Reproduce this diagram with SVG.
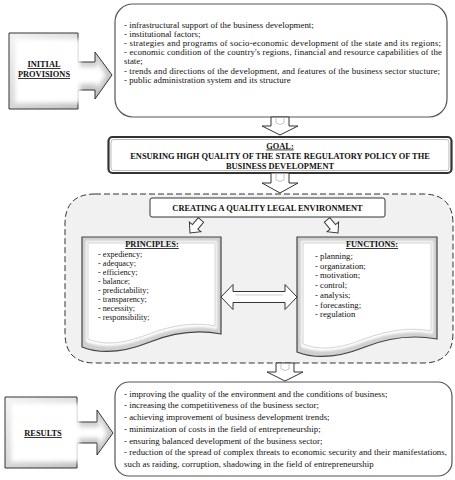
<svg xmlns="http://www.w3.org/2000/svg" width="455" height="480" viewBox="0 0 455 480">
<defs>
<style>
.t{font-family:"Liberation Serif","Times New Roman",serif;font-size:8.9px;fill:#111}
.s{font-family:"Liberation Serif","Times New Roman",serif;font-size:8.7px;fill:#111}
.p{font-family:"Liberation Serif","Times New Roman",serif;font-size:8.2px;fill:#111}
.b{font-family:"Liberation Serif","Times New Roman",serif;font-size:8.4px;font-weight:bold;fill:#111}
.u{text-decoration:underline}
.box{fill:#fff;stroke:#555;stroke-width:1.2}
.arr{fill:#fff;stroke:#333;stroke-width:1}
.in{fill:none;stroke:#b5b5b5;stroke-width:0.8}
</style>
<linearGradient id="bev" x1="0" y1="0" x2="1" y2="1">
<stop offset="0" stop-color="#f4f4f4"/>
<stop offset="1" stop-color="#b8b8b8"/>
</linearGradient>
<filter id="blur" x="-10%" y="-10%" width="120%" height="120%"><feGaussianBlur stdDeviation="2"/></filter>
<filter id="blur1" x="-10%" y="-10%" width="120%" height="120%"><feGaussianBlur stdDeviation="1.2"/></filter>
</defs>

<g id="initial-provisions">
<path d="M9,33 H78 V62 H95 V52 L112,75 L95,99 V90 H78 V109 H9 Z" fill="url(#bev)" stroke="#333" stroke-width="1"/>
<path d="M15,39 H80 V67 H97 V61 L106,75 L97,89 V84 H80 V103 H15 Z" fill="#fff" filter="url(#blur)"/>
<text class="b u" x="44" y="67" text-anchor="middle">INITIAL</text>
<text class="b u" x="44" y="77" text-anchor="middle">PROVISIONS</text>
</g>

<g id="initial-content">
<rect class="box" x="115" y="4" width="332" height="113" rx="18"/>
<text class="t" x="124" y="27.5">- infrastructural support of the business development;</text>
<text class="t" x="124" y="36.7">- institutional factors;</text>
<text class="t" x="124" y="45.9" textLength="317" lengthAdjust="spacing">- strategies and programs of socio-economic development of the state and its regions;</text>
<text class="t" x="124" y="55.1" textLength="318" lengthAdjust="spacing">- economic condition of the country's regions, financial and resource capabilities of the</text>
<text class="t" x="124" y="64.3">state;</text>
<text class="t" x="124" y="73.5" textLength="316" lengthAdjust="spacing">- trends and directions of the development, and features of the business sector stucture;</text>
<text class="t" x="124" y="82.7">- public administration system and its structure</text>
</g>

<g id="goal">
<rect x="108.5" y="137" width="343" height="36" rx="4" fill="#fff" stroke="#333" stroke-width="2.2"/>
<rect x="111" y="139.5" width="338" height="31" rx="2.5" fill="none" stroke="#aaa" stroke-width="0.8"/>
<text class="b u" x="280" y="148.5" text-anchor="middle">GOAL:</text>
<text class="b" x="280" y="158.5" text-anchor="middle">ENSURING HIGH QUALITY OF THE STATE REGULATORY POLICY OF THE</text>
<text class="b" x="280" y="168.5" text-anchor="middle">BUSINESS DEVELOPMENT</text>
</g>

<g id="legal-environment">
<path d="M95,194 H423 Q453,194 453,224 V333 Q453,363 423,363 H95 Q65,363 65,333 V224 Q65,194 95,194 Z" fill="#f1f1f1" stroke="#333" stroke-width="1" stroke-dasharray="6,3"/>
<rect x="150" y="198" width="235" height="19" rx="2" fill="#fff" stroke="#333" stroke-width="1"/>
<text class="b" x="267.5" y="210.5" text-anchor="middle">CREATING A QUALITY LEGAL ENVIRONMENT</text>
</g>

<g id="principles">
<path d="M82,237 H221 V334 C200,330 175,332 150,342 C130,350 105,356 82,347 Z" fill="#d0d0d0" stroke="#444" stroke-width="1.2"/>
<path d="M86,241 H217 V329 C197,325 173,328 149,337 C128,345 106,350 86,342 Z" fill="#fff" filter="url(#blur1)"/>
<path d="M88,243 H215 V326 C196,322 172,325 149,334 C128,342 107,347 88,339 Z" fill="none" stroke="#c8c8c8" stroke-width="0.8"/>
<text class="b u" x="152" y="247" text-anchor="middle">PRINCIPLES:</text>
<text class="p" x="98" y="257">- expediency;</text>
<text class="p" x="98" y="266">- adequacy;</text>
<text class="p" x="98" y="275">- efficiency;</text>
<text class="p" x="98" y="284">- balance;</text>
<text class="p" x="98" y="293">- predictability;</text>
<text class="p" x="98" y="302">- transparency;</text>
<text class="p" x="98" y="311">- necessity;</text>
<text class="p" x="98" y="320">- responsibility;</text>
</g>

<g id="functions">
<path d="M297,237 H437 V339 C415,335 390,337 365,347 C345,355 320,361 297,352 Z" fill="#d0d0d0" stroke="#444" stroke-width="1.2"/>
<path d="M301,241 H433 V334 C412,330 389,333 364,342 C344,350 321,355 301,347 Z" fill="#fff" filter="url(#blur1)"/>
<path d="M303,243 H431 V331 C411,327 388,330 364,339 C344,347 322,352 303,344 Z" fill="none" stroke="#c8c8c8" stroke-width="0.8"/>
<text class="b u" x="372" y="247" text-anchor="middle">FUNCTIONS:</text>
<text class="s" x="315" y="259">- planning;</text>
<text class="s" x="315" y="268.7">- organization;</text>
<text class="s" x="315" y="278.4">- motivation;</text>
<text class="s" x="315" y="288.1">- control;</text>
<text class="s" x="315" y="297.8">- analysis;</text>
<text class="s" x="315" y="307.5">- forecasting;</text>
<text class="s" x="315" y="317.2">- regulation</text>
</g>

<g id="results">
<path d="M5,397 H77 V422 H97 V410 L113,433 L97,455 V443 H77 V468 H5 Z" fill="url(#bev)" stroke="#333" stroke-width="1"/>
<path d="M11,403 H79 V427 H99 V418 L107,433 L99,447 V438 H79 V462 H11 Z" fill="#fff" filter="url(#blur)"/>
<text class="b u" x="43" y="436" text-anchor="middle">RESULTS</text>
</g>

<g id="results-content">
<rect class="box" x="115" y="382" width="337" height="94" rx="14"/>
<text class="t" x="124" y="396.5">- improving the quality of the environment and the conditions of business;</text>
<text class="t" x="124" y="408.3">- increasing the competitiveness of the business sector;</text>
<text class="t" x="124" y="420">- achieving improvement of business development trends;</text>
<text class="t" x="124" y="431.8">- minimization of costs in the field  of entrepreneurship;</text>
<text class="t" x="124" y="443.5">- ensuring balanced development of the business sector;</text>
<text class="t" x="124" y="455.3" textLength="323" lengthAdjust="spacing">- reduction of the spread of complex threats to economic security and their manifestations,</text>
<text class="t" x="124" y="467">such as raiding, corruption, shadowing in the field  of entrepreneurship</text>
</g>

<g id="connectors">
<path class="arr" d="M271,117 H289 V126 H298 L280,135 L262,126 H271 Z"/>
<path class="in" d="M276,118 V123 Q280,126 284,123 V118"/>
<path class="arr" d="M271,173 H289 V183 H298 L280,193 L262,183 H271 Z"/>
<path class="in" d="M276,174 V180 Q280,183 284,180 V174"/>
<path class="arr" d="M276,363 H294 V372 H303 L285,381 L267,372 H276 Z"/>
<path class="in" d="M281,364 V369 Q285,372 289,369 V364"/>
<path class="arr" d="M-3.5,-17 H3.5 V-8 H7.5 L0,0 L-7.5,-8 H-3.5 Z" transform="translate(190,233) rotate(40)"/>
<path class="arr" d="M-3.5,-17 H3.5 V-8 H7.5 L0,0 L-7.5,-8 H-3.5 Z" transform="translate(338,233) rotate(-40)"/>
<path class="arr" d="M221,297 L233,284.5 V291.5 H285 V284.5 L297,297 L285,309.5 V302.5 H233 V309.5 Z"/>
<path d="M235,295 H283" stroke="#d0d0d0" stroke-width="1.2"/>
</g>
</svg>
